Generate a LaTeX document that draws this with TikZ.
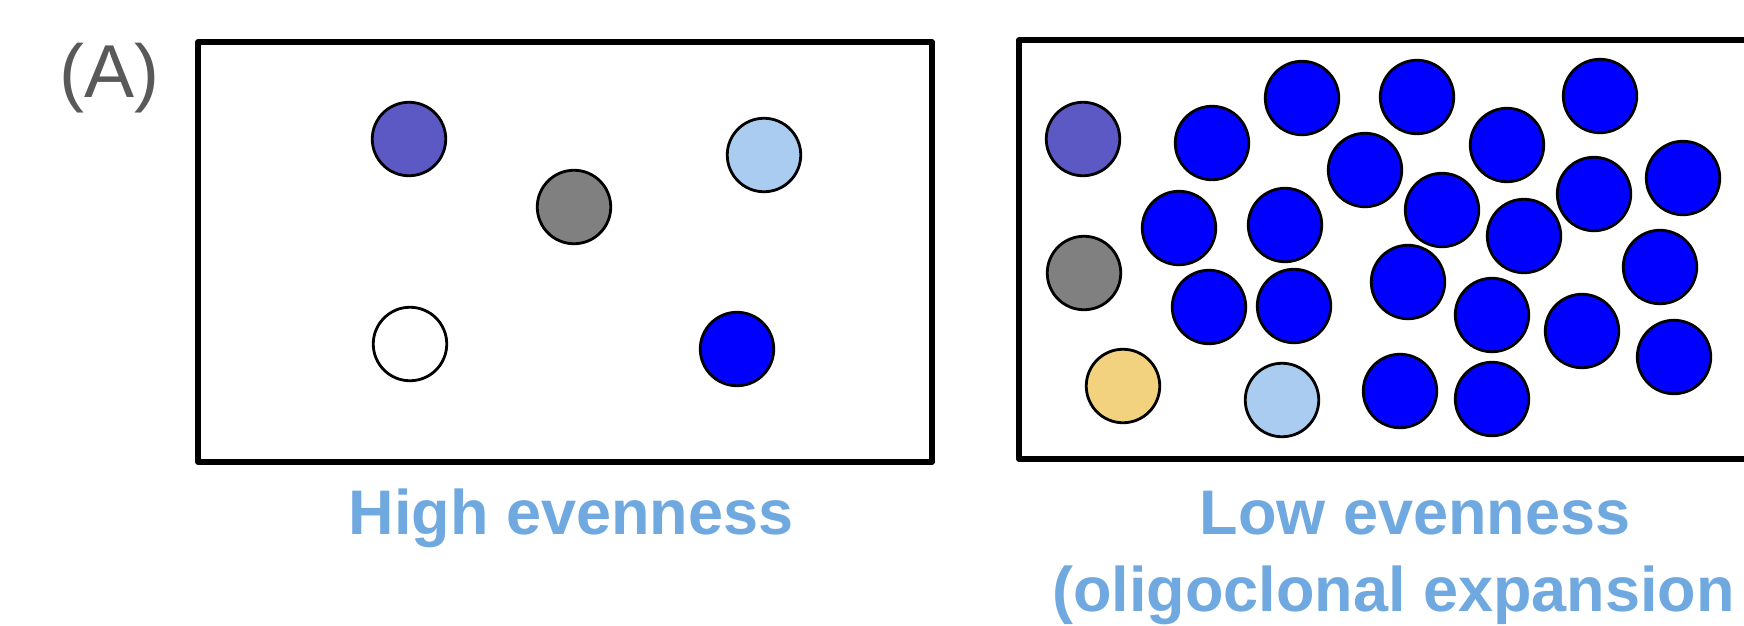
\documentclass[tikz,border=0pt]{standalone}
\usepackage{fontspec}
\setmainfont{Liberation Sans}
\definecolor{cpurple}{RGB}{92,88,196}
\definecolor{cgray}{RGB}{128,128,128}
\definecolor{clblue}{RGB}{169,204,240}
\definecolor{cyellow}{RGB}{242,210,126}
\definecolor{cblue}{RGB}{0,0,255}
\definecolor{ctext}{RGB}{111,169,224}
\definecolor{clabel}{RGB}{89,89,89}
\tikzset{
  cell/.style={circle, draw=black, line width=2.8pt, minimum size=73.5pt, inner sep=0pt},
  frame/.style={draw=black, line width=5.5pt, line join=round},
  caption/.style={text=ctext, font=\fontsize{63}{72}\selectfont\bfseries, inner sep=0pt, anchor=base}
}
\begin{document}
\begin{tikzpicture}[x=1pt,y=-1pt]
\useasboundingbox (0,0) rectangle (1744,625);
% panel label
\node[text=clabel, font=\fontsize{75}{80}\selectfont, inner sep=0pt, anchor=base west] (lab) at (59,97) {(A)};
% left frame
\draw[frame] (198,42) rectangle (932,462);
\node[cell, fill=cpurple] (l1) at (409,139) {};
\node[cell, fill=cgray] (l2) at (574,207) {};
\node[cell, fill=clblue] (l3) at (764,155) {};
\node[cell, fill=white] (l4) at (410,344) {};
\node[cell, fill=cblue] (l5) at (737,349) {};
\node[caption] (capl) at (571,534) {High evenness};
% right frame (open on the right, cut by the picture edge)
\draw[frame] (1746,40) -- (1019,40) -- (1019,459) -- (1746,459);
\node[cell, fill=cpurple] (r1) at (1083,139) {};
\node[cell, fill=cgray] (r2) at (1084,273) {};
\node[cell, fill=cyellow] (r3) at (1123,386) {};
\node[cell, fill=clblue] (r4) at (1282,400) {};
\foreach \n/\x/\y in {b1/1212/143, b2/1302/98, b3/1417/97, b4/1600/96, b5/1365/170,
  b6/1507/145, b7/1683/178, b8/1594/194, b9/1442/210, b10/1524/236, b11/1179/228,
  b12/1285/225, b13/1660/267, b14/1408/282, b15/1209/307, b16/1294/306, b17/1492/315,
  b18/1582/331, b19/1674/357, b20/1400/391, b21/1492/399}
  \node[cell, fill=cblue] (\n) at (\x,\y) {};
\node[caption] (capr1) at (1415,534) {Low evenness};
\node[caption, anchor=base west] (capr2) at (1052,611) {(oligoclonal expansion};
\end{tikzpicture}
\end{document}
